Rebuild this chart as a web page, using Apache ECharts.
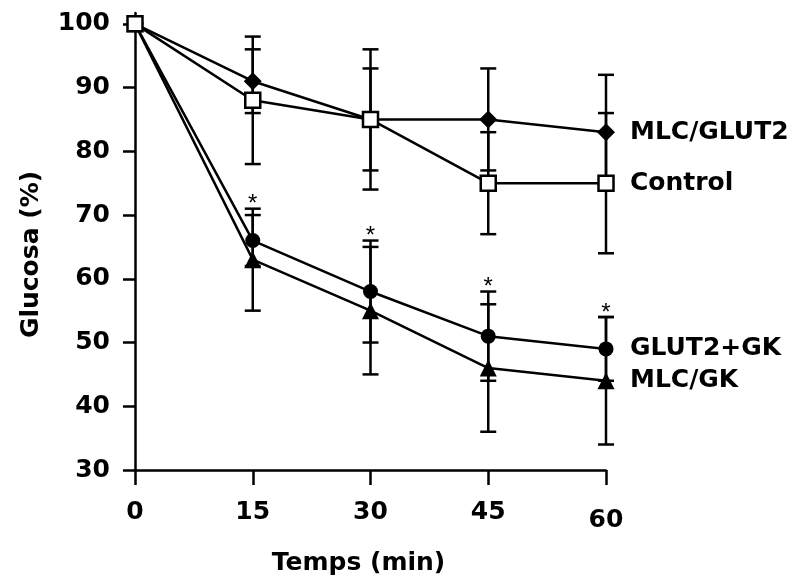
<!DOCTYPE html>
<html>
<head>
<meta charset="utf-8">
<script src="https://cdn.jsdelivr.net/npm/echarts@6/dist/echarts.min.js"></script>
<style>
  html, body { margin: 0; padding: 0; background: #fff; }
  #chart { width: 798px; height: 581px; }
</style>
</head>
<body>
<div id="chart"></div>
<script>
// time points (min) and y ticks
const times = [0, 15, 30, 45, 60];
const yTicks = [30, 40, 50, 60, 70, 80, 90, 100];

// glucose (%) means and error bar half-widths
const mlcGlut2 = [100, 91, 85, 85, 83];
const mlcGlut2Err = [0, 5, 8, 8, 9];
const control = [100, 88, 85, 75, 75];
const controlErr = [0, 10, 11, 8, 11];
const glut2Gk = [100, 66, 58, 51, 49];
const glut2GkErr = [0, 4, 8, 7, 5];
const mlcGk = [100, 63, 55, 46, 44];
const mlcGkErr = [0, 8, 10, 10, 10];
// asterisk over the GK groups
const significant = [false, true, true, true, true];

const FONT = 'DejaVu Sans';
const textBold = { color: '#000', fontFamily: FONT, fontWeight: 'bold', fontSize: 25 };

function errorBars(name, vals, errs) {
  return {
    type: 'custom',
    name: name + ' err',
    z: 1,
    silent: true,
    data: times.map((t, i) => [t, vals[i] - errs[i], vals[i] + errs[i]]),
    renderItem: function (params, api) {
      if (api.value(1) === api.value(2)) return null;
      const lo = api.coord([api.value(0), api.value(1)]);
      const hi = api.coord([api.value(0), api.value(2)]);
      const w = 8;
      const style = { stroke: '#000', lineWidth: 2.5 };
      return {
        type: 'group',
        children: [
          { type: 'line', shape: { x1: lo[0], y1: lo[1], x2: hi[0], y2: hi[1] }, style: style },
          { type: 'line', shape: { x1: lo[0] - w, y1: lo[1], x2: lo[0] + w, y2: lo[1] }, style: style },
          { type: 'line', shape: { x1: hi[0] - w, y1: hi[1], x2: hi[0] + w, y2: hi[1] }, style: style }
        ]
      };
    }
  };
}

function lineSeries(name, vals, symbol, size, fill, z) {
  return {
    type: 'line',
    name: name,
    z: z,
    data: times.map((t, i) => [t, vals[i]]),
    symbol: symbol,
    symbolSize: size,
    showAllSymbol: true,
    lineStyle: { color: '#000', width: 2.5 },
    itemStyle: { color: fill, borderColor: '#000', borderWidth: fill === '#fff' ? 2.5 : 0, opacity: 1 },
    endLabel: Object.assign({ show: true, formatter: name, distance: 24 }, textBold),
    emphasis: { disabled: true }
  };
}

// asterisk sits above the highest cap of the two GK groups
const starData = times
  .map((t, i) => [t, Math.max(glut2Gk[i] + glut2GkErr[i], mlcGk[i] + mlcGkErr[i])])
  .filter((d, i) => significant[i]);

const chart = echarts.init(document.getElementById('chart'));
chart.setOption({
  animation: false,
  grid: { left: 135, right: 192, top: 13, bottom: 111 },
  xAxis: {
    type: 'value',
    min: 0,
    max: 60,
    interval: 15,
    name: 'Temps (min)',
    nameLocation: 'middle',
    nameGap: 81,
    nameTextStyle: Object.assign({ padding: [0, 24, 0, 0] }, textBold),
    axisLine: { lineStyle: { color: '#000', width: 2.5 } },
    axisTick: { length: 15, lineStyle: { color: '#000', width: 2.5 } },
    axisLabel: Object.assign({
      margin: 30,
      formatter: v => (v === 60 ? '{low|60}' : String(v)),
      rich: { low: Object.assign({ padding: [8, 0, 0, 0] }, textBold) }
    }, textBold),
    splitLine: { show: false }
  },
  yAxis: {
    type: 'value',
    min: 30,
    max: 101.7,
    name: 'Glucosa (%)',
    nameLocation: 'middle',
    nameGap: 91,
    nameTextStyle: Object.assign({ padding: [0, 26, 0, 0] }, textBold),
    axisLine: { lineStyle: { color: '#000', width: 2.5 } },
    axisTick: { length: 12, customValues: yTicks, lineStyle: { color: '#000', width: 2.5 } },
    axisLabel: Object.assign({ margin: 25, customValues: yTicks }, textBold),
    splitLine: { show: false }
  },
  series: [
    errorBars('MLC/GLUT2', mlcGlut2, mlcGlut2Err),
    errorBars('Control', control, controlErr),
    errorBars('GLUT2+GK', glut2Gk, glut2GkErr),
    errorBars('MLC/GK', mlcGk, mlcGkErr),
    lineSeries('MLC/GLUT2', mlcGlut2, 'diamond', 18, '#000', 3),
    lineSeries('GLUT2+GK', glut2Gk, 'circle', 15, '#000', 3),
    lineSeries('MLC/GK', mlcGk, 'triangle', 17, '#000', 3),
    lineSeries('Control', control, 'rect', 15, '#fff', 4),
    {
      type: 'custom',
      name: 'signif',
      z: 5,
      silent: true,
      data: starData,
      renderItem: function (params, api) {
        const p = api.coord([api.value(0), api.value(1)]);
        return {
          type: 'text',
          style: {
            x: p[0], y: p[1] - 4, text: '*',
            fill: '#000', font: '24px "Liberation Sans"',
            align: 'center', verticalAlign: 'middle'
          }
        };
      }
    }
  ]
});
</script>
</body>
</html>
